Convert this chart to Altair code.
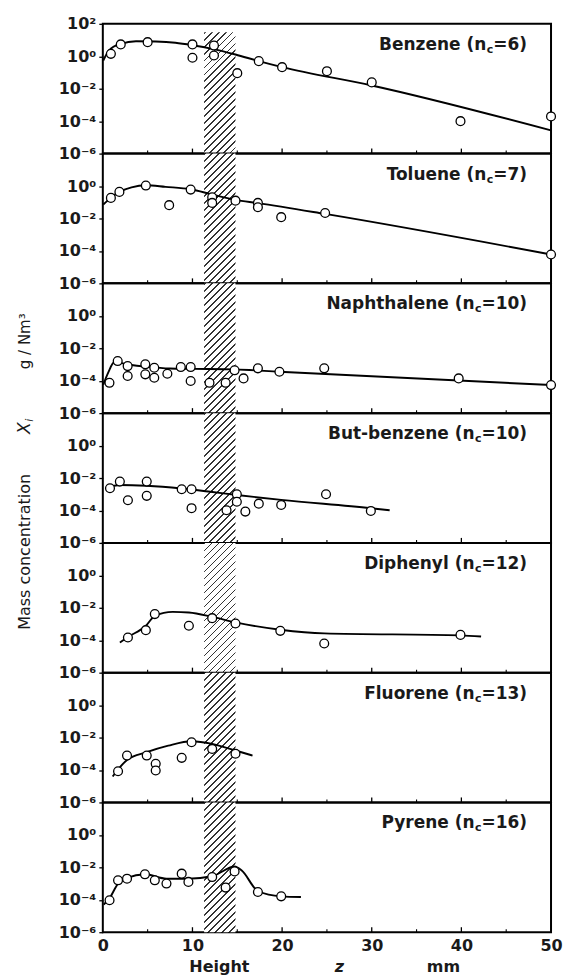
import math
import altair as alt
import pandas as pd

# ---------------- data ----------------
names = ["Benzene", "Toluene", "Naphthalene", "But-benzene", "Diphenyl", "Fluorene", "Pyrene"]
n_c = ["6", "7", "10", "10", "12", "13", "16"]

# measured points: height z (mm) and log10 of mass concentration (g/Nm3)
points_x = [
    [0.9, 2.0, 5.0, 10.0, 10.0, 12.4, 12.4, 15.0, 17.4, 20.0, 25.0, 30.0, 39.9, 50.0],
    [0.9, 1.85, 4.8, 7.4, 9.8, 12.2, 12.2, 14.8, 17.3, 17.3, 19.9, 24.8, 50.0],
    [0.74, 1.66, 2.77, 2.77, 4.74, 4.74, 5.74, 5.74, 7.2, 8.7, 9.8, 9.8, 11.9, 13.7, 14.7, 15.7, 17.3, 19.7, 24.7, 39.7, 50.0],
    [0.8, 1.9, 2.8, 4.9, 4.9, 8.8, 9.9, 9.9, 13.8, 14.95, 14.95, 15.9, 17.4, 19.9, 24.9, 29.9],
    [2.8, 4.8, 5.8, 9.6, 12.2, 14.8, 19.8, 24.7, 39.9],
    [1.7, 2.7, 4.9, 5.9, 5.9, 8.8, 9.9, 12.2, 14.8],
    [0.75, 1.7, 2.7, 4.7, 5.8, 7.1, 8.8, 9.55, 12.2, 13.7, 14.7, 17.3, 19.9],
]
points_lg = [
    [0.15, 0.73, 0.87, 0.73, -0.09, 0.66, 0.05, -1.04, -0.30, -0.67, -0.92, -1.61, -4.0, -3.71],
    [-0.73, -0.36, 0.03, -1.18, -0.22, -0.69, -1.04, -0.90, -1.04, -1.31, -1.92, -1.66, -4.22],
    [-4.13, -2.79, -3.10, -3.71, -2.99, -3.61, -3.20, -3.82, -3.57, -3.16, -3.16, -4.02, -4.13, -4.13, -3.36, -3.86, -3.24, -3.45, -3.24, -3.86, -4.27],
    [-2.63, -2.22, -3.37, -2.22, -3.10, -2.69, -2.69, -3.86, -3.99, -3.00, -3.46, -4.07, -3.58, -3.66, -3.00, -4.03],
    [-3.83, -3.38, -2.39, -3.11, -2.64, -2.97, -3.42, -4.20, -3.67],
    [-4.08, -3.11, -3.11, -3.62, -4.03, -3.25, -2.29, -2.70, -3.00],
    [-4.03, -2.80, -2.70, -2.43, -2.80, -3.00, -2.39, -2.90, -2.60, -3.25, -2.25, -3.52, -3.79],
]
# fitted curves
curve_x = [
    [0.05, 0.7, 2.0, 3.7, 5.9, 8.1, 10.0, 12.2, 14.8, 17.4, 20.0, 30.0, 50.0],
    [0.05, 0.9, 1.85, 3.2, 4.8, 7.0, 9.8, 12.2, 14.8, 17.3, 24.8, 50.0],
    [0.05, 0.6, 1.3, 2.8, 5.0, 7.5, 10.0, 14.7, 19.7, 50.0],
    [0.8, 1.9, 4.9, 8.8, 12.0, 14.95, 19.9, 29.9, 32.0],
    [1.9, 2.8, 4.8, 5.8, 7.8, 9.6, 12.2, 14.8, 19.8, 24.7, 39.9, 42.2],
    [1.1, 2.7, 4.9, 7.3, 9.9, 12.2, 14.8, 16.7],
    [0.1, 0.75, 1.7, 2.7, 4.7, 7.1, 9.55, 12.2, 14.7, 15.5, 17.3, 19.9, 22.1],
]
curve_lg = [
    [-0.26, 0.36, 0.77, 0.93, 0.91, 0.83, 0.68, 0.46, 0.11, -0.30, -0.67, -1.80, -4.57],
    [-1.14, -0.72, -0.36, -0.08, 0.05, -0.05, -0.20, -0.52, -0.85, -1.05, -1.72, -4.22],
    [-4.25, -3.5, -2.85, -3.0, -3.15, -3.25, -3.27, -3.30, -3.45, -4.27],
    [-2.55, -2.43, -2.48, -2.65, -2.85, -3.05, -3.35, -3.86, -3.99],
    [-4.14, -3.80, -3.11, -2.50, -2.25, -2.29, -2.56, -2.90, -3.35, -3.58, -3.70, -3.77],
    [-4.40, -3.38, -2.90, -2.50, -2.23, -2.39, -2.80, -3.11],
    [-4.30, -3.90, -3.00, -2.65, -2.43, -2.70, -2.70, -2.55, -1.95, -2.20, -3.46, -3.79, -3.83],
]

y_tick_values_top = [100, 1, 0.01, 0.0001, 0.000001]
y_tick_values = [1, 0.01, 0.0001, 0.000001]
x_tick_labels = [0, 10, 20, 30, 40, 50]
x_ticks_major = [10, 20, 30, 40]
x_ticks_minor = [5, 15, 25, 35, 45]
band_x = [11.3, 14.8]
band_top = [30, 100, 100, 100, 100, 100, 100]
y_title_parts = ["Mass concentration", "X", "i", "g / Nm³"]
x_title_parts = ["Height", "z", "mm"]
x_title_pos = [13.0, 26.4, 38.0]

# ---------------- styling ----------------
W, H = 449, 130
FONT = "DejaVu Sans"
LABEL_SIZE = 17
xs = alt.Scale(domain=[0, 50], nice=False, zero=False)
ys = alt.Scale(type="log", domain=[1e-6, 1e2], nice=False)
LABEL_EXPR = ("datum.value >= 10 ? '10²' : datum.value >= 0.1 ? '10⁰' : "
              "datum.value >= 0.001 ? '10⁻²' : datum.value >= 0.00001 ? '10⁻⁴' : '10⁻⁶'")

# DejaVu Sans Bold advance widths (em) for the suffix characters
ADV = {"=": 0.838, ")": 0.457, "c": 0.592}
for d in "0123456789":
    ADV[d] = 0.696


def text_w(s, size):
    return sum(ADV.get(ch, 0.65) for ch in s) * size


def hatch_fill(w_px, h_px, period=7.0, duty=0.26, ink="#333333"):
    a = w_px / h_px
    L = w_px + h_px
    s = L / (h_px * (1 + a * a))
    n = max(1, round(L / period))
    stops = []
    for k in range(n):
        o0, o1, o2 = k / n, (k + duty) / n, (k + 1) / n
        stops += [alt.GradientStop(color=ink, offset=o0), alt.GradientStop(color=ink, offset=o1),
                  alt.GradientStop(color="white", offset=o1), alt.GradientStop(color="white", offset=o2)]
    return alt.LinearGradient(gradient="linear", stops=stops, x1=0, y1=0, x2=a * s, y2=s)


def panel(i):
    last = i == len(names) - 1
    x_axis = (alt.Axis(values=x_tick_labels, title=None, grid=False, domain=False, ticks=False,
                       labelPadding=5, labelFlush=False, format="d") if last else None)
    y_axis = alt.Axis(values=y_tick_values_top if i == 0 else y_tick_values, title=None, grid=False,
                      domain=False, tickSize=4, labelExpr=LABEL_EXPR, labelPadding=3)

    def X(f):
        return alt.X(f, type="quantitative", scale=xs, axis=x_axis)

    def Y(f):
        return alt.Y(f, type="quantitative", scale=ys, axis=y_axis)

    w_px = (band_x[1] - band_x[0]) * W / 50.0
    h_px = H * (math.log10(band_top[i]) + 6) / 8.0
    band_df = pd.DataFrame({"x0": [band_x[0]], "x1": [band_x[1]], "ylo": [1e-6], "yhi": [band_top[i]]})
    hatch = alt.Chart(band_df).mark_rect(fill=hatch_fill(w_px, h_px), opacity=1).encode(
        x=X("x0"), x2=alt.X2("x1"), y=Y("ylo"), y2=alt.Y2("yhi"))

    line = (alt.Chart(pd.DataFrame({"x": curve_x[i], "lg": curve_lg[i]}))
            .transform_calculate(v="pow(10, datum.lg)")
            .mark_line(color="black", strokeWidth=1.9, interpolate="monotone")
            .encode(x=X("x"), y=Y("v")))
    pts = (alt.Chart(pd.DataFrame({"x": points_x[i], "lg": points_lg[i]}))
           .transform_calculate(v="pow(10, datum.lg)")
           .mark_circle(size=78, fill="white", stroke="black", strokeWidth=1.3, opacity=1)
           .encode(x=X("x"), y=Y("v")))

    tmaj = alt.Chart(pd.DataFrame({"t": x_ticks_major})).mark_rule(color="black", strokeWidth=1.3).encode(
        x=X("t"), y=alt.value(H), y2=alt.value(H - 5))
    tmin = alt.Chart(pd.DataFrame({"t": x_ticks_minor})).mark_rule(color="black", strokeWidth=1.1).encode(
        x=X("t"), y=alt.value(H), y2=alt.value(H - 3))

    suffix = "=" + n_c[i] + ")"
    right = 425
    x_c = right - text_w(suffix, LABEL_SIZE)
    x_main = x_c - text_w("c", 11) - 0.5
    ly = 21
    lab_main = alt.Chart(pd.DataFrame({"s": [names[i] + " (n"]})).mark_text(
        align="right", baseline="middle", font=FONT, fontSize=LABEL_SIZE, fontWeight="bold", color="#1a1a1a"
    ).encode(x=alt.value(x_main), y=alt.value(ly), text="s:N")
    lab_sub = alt.Chart(pd.DataFrame({"s": ["c"]})).mark_text(
        align="right", baseline="middle", font=FONT, fontSize=11, fontWeight="bold", color="#1a1a1a"
    ).encode(x=alt.value(x_c), y=alt.value(ly + 5), text="s:N")
    lab_suf = alt.Chart(pd.DataFrame({"s": [suffix]})).mark_text(
        align="right", baseline="middle", font=FONT, fontSize=LABEL_SIZE, fontWeight="bold", color="#1a1a1a"
    ).encode(x=alt.value(right), y=alt.value(ly), text="s:N")

    layers = [hatch, line, pts, tmaj, tmin, lab_main, lab_sub, lab_suf]

    if i == 3:
        tx = -78
        specs = [
            (y_title_parts[0], tx, 139, 16, "normal"),
            (y_title_parts[1], tx, 15, 17, "italic"),
            (y_title_parts[2], tx + 5, 7, 11, "italic"),
            (y_title_parts[3], tx, -72, 15, "normal"),
        ]
        for s, px, py, fs, st in specs:
            layers.append(alt.Chart(pd.DataFrame({"s": [s]})).mark_text(
                angle=270, align="center", baseline="middle", font=FONT, fontSize=fs, fontStyle=st,
                color="#1a1a1a").encode(x=alt.value(px), y=alt.value(py), text="s:N"))

    if last:
        styles = ["normal", "italic", "normal"]
        for s, pos, st in zip(x_title_parts, x_title_pos, styles):
            layers.append(alt.Chart(pd.DataFrame({"s": [s], "x": [pos]})).mark_text(
                align="center", baseline="middle", font=FONT, fontSize=16, fontStyle=st, fontWeight="bold",
                color="#1a1a1a").encode(x=X("x"), y=alt.value(H + 35), text="s:N"))

    return alt.layer(*layers).properties(width=W, height=H)


chart = (
    alt.vconcat(*[panel(i) for i in range(len(names))], spacing=0, bounds="flush")
    .properties(padding={"left": 15, "top": 14, "right": 0, "bottom": 0}, background="white")
    .configure_view(stroke="black", strokeWidth=2)
    .configure_axis(labelFont=FONT, labelFontSize=16, labelFontWeight="bold", labelColor="#1a1a1a",
                    tickColor="black", tickWidth=1.3)
)

chart.save("out.html", embed_options={"renderer": "svg", "actions": False})
